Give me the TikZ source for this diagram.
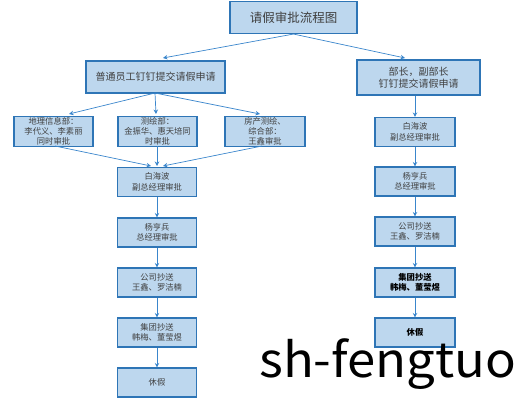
\documentclass[tikz,border=0pt]{standalone}
\usepackage{fontspec}
\setmainfont{Noto Sans CJK SC}
\newfontfamily\wmfont{Noto Sans CJK SC}
\usetikzlibrary{arrows.meta}
\definecolor{boxfill}{HTML}{BDD7EE}
\definecolor{boxline}{HTML}{2E75B6}
\definecolor{arr}{HTML}{3A86CC}
\definecolor{txt}{HTML}{404040}
\begin{document}
\begin{tikzpicture}[x=1pt,y=-1pt,
  box/.style={draw=boxline,line width=1.1pt,fill=boxfill,align=center,inner sep=1pt,text=txt},
  smallbox/.style={box,minimum width=79pt,minimum height=29pt,font=\fontsize{8.3}{10.5}\selectfont},
  midbox/.style={box,font=\fontsize{10}{12}\selectfont},
  arrow/.style={draw=arr,line width=0.7pt,-{Stealth[length=4.5pt,width=4.5pt]}}]
\useasboundingbox (0,0) rectangle (516,407);
\node[box,minimum width=127pt,minimum height=32pt,font=\fontsize{12.5}{14}\selectfont] (title) at (293.5,17.5) {请假审批流程图};
\node[midbox,minimum width=139pt,minimum height=32pt] (L1) at (155.5,77) {普通员工钉钉提交请假申请};
\node[midbox,minimum width=123pt,minimum height=35pt] (R1) at (418.5,77.5) {部长，副部长\\钉钉提交请假申请};
\node[smallbox,font=\fontsize{8.3}{10}\selectfont] (A) at (53.5,131.5) {地理信息部：\\李代义、李素丽\\同时审批};
\node[smallbox,font=\fontsize{8.3}{10}\selectfont] (B) at (157.5,131.5) {测绘部：\\金振华、惠天培同\\时审批};
\node[smallbox,minimum width=80pt,font=\fontsize{8.3}{10}\selectfont] (C) at (265,131.5) {房产测绘、\\综合部：\\王鑫审批};
\node[smallbox] (L2) at (157,182) {白海波\\副总经理审批};
\node[smallbox] (L3) at (157,232.5) {杨亨兵\\总经理审批};
\node[smallbox] (L4) at (157,282.5) {公司抄送\\王鑫、罗洁楠};
\node[smallbox] (L5) at (157,332.5) {集团抄送\\韩梅、董莹煜};
\node[smallbox] (L6) at (157,382.5) {休假};
\node[smallbox,minimum width=80pt] (R2) at (415,132) {白海波\\副总经理审批};
\node[smallbox,minimum width=80pt] (R3) at (415,181.5) {杨亨兵\\总经理审批};
\node[smallbox,minimum width=80pt] (R4) at (415,231.5) {公司抄送\\王鑫、罗洁楠};
\node[smallbox,minimum width=80pt,text=black,font=\fontsize{8.3}{10.5}\selectfont\bfseries] (R5) at (415,282.5) {集团抄送\\韩梅、董莹煜};
\node[smallbox,minimum width=80pt,text=black,font=\fontsize{8.3}{10.5}\selectfont\bfseries] (R6) at (415,332.5) {休假};
\node[anchor=base west,inner sep=0pt,font=\wmfont\fontsize{48}{48}\selectfont] (wm) at (259,377) {\scalebox{1.06}[1]{sh-fengtuo}};
\coordinate (lt) at (163,58);
\coordinate (rt) at (405,58);
\draw[arrow] (title.south) -- (lt);
\draw[arrow] (title.south) -- (rt);
\coordinate (l1b) at (155,93);
\coordinate (at) at (69,114);
\coordinate (bt) at (156,114);
\coordinate (ct) at (260,114);
\draw[arrow] (l1b) -- (at);
\draw[arrow] (l1b) -- (bt);
\draw[arrow] (l1b) -- (ct);
\coordinate (ab) at (55,146);
\coordinate (bb) at (157,146);
\coordinate (cb) at (262,146);
\coordinate (l2a) at (151,166);
\coordinate (l2b) at (157,166);
\coordinate (l2c) at (163,166);
\draw[arrow] (ab) -- (l2a);
\draw[arrow] (bb) -- (l2b);
\draw[arrow] (cb) -- (l2c);
\draw[arrow] (L2) -- (L3);
\draw[arrow] (L3) -- (L4);
\draw[arrow] (L4) -- (L5);
\draw[arrow] (L5) -- (L6);
\draw[arrow] (R1.south -| R2.north) -- (R2);
\draw[arrow] (R2) -- (R3);
\draw[arrow] (R3) -- (R4);
\draw[arrow] (R4) -- (R5);
\draw[arrow] (R5) -- (R6);
\end{tikzpicture}
\end{document}
